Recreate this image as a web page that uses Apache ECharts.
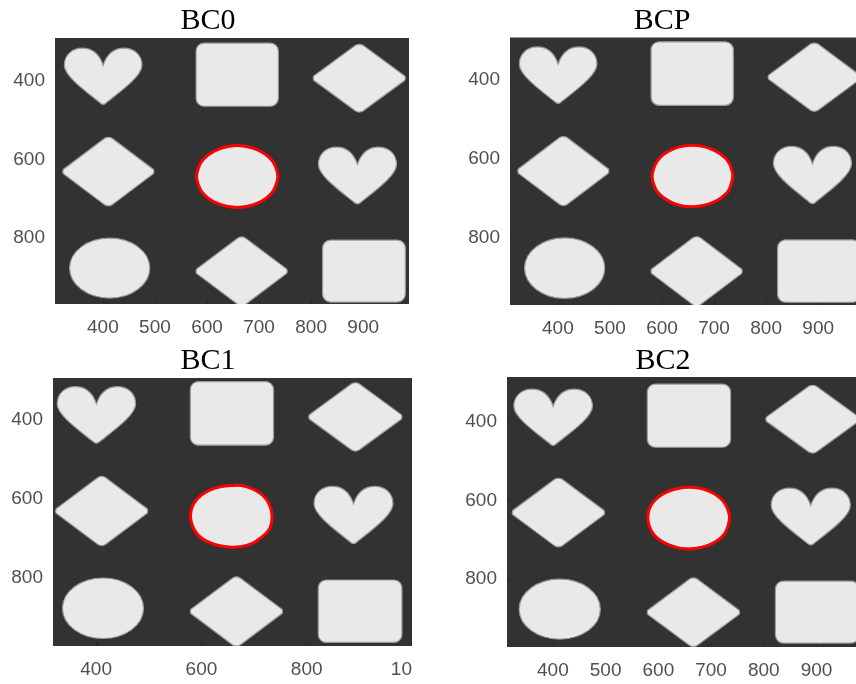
<!DOCTYPE html>
<html><head><meta charset="utf-8">
<script src="https://cdn.jsdelivr.net/npm/echarts@6/dist/echarts.min.js"></script>
<style>
html,body{margin:0;padding:0;background:#ffffff;width:856px;height:684px;overflow:hidden;}
.pn{position:absolute;overflow:hidden;}
</style></head><body>
<div id="p0" class="pn" style="left:0;top:0;width:418px;height:340px"></div>
<div id="p1" class="pn" style="left:418px;top:0;width:438px;height:340px"></div>
<div id="p2" class="pn" style="left:0;top:340px;width:412px;height:344px"></div>
<div id="p3" class="pn" style="left:418px;top:340px;width:438px;height:344px"></div>
<script>
// ---------- data ----------
const panelTitles = ['BC0', 'BCP', 'BC1', 'BC2'];
const xTicksFine = [400, 500, 600, 700, 800, 900];
const xTicksCoarse = [400, 600, 800, 1000];
const yTicks = [400, 600, 800];

// shape kinds: 0 heart, 1 rounded rectangle, 2 diamond, 3 ellipse
const shapeKind = [0, 1, 2, 2, 3, 0, 3, 2, 1];
const shapeCx   = [400.5, 658, 892.5, 410.5, 658, 889, 413, 666.5, 901.5];
const shapeCy   = [387.5, 383.5, 392.5, 630.5, 643.5, 640.5, 876.5, 884.5, 884];
const shapeW    = [149, 158, 177, 175, 154, 150, 154, 175, 159];
const shapeH    = [143, 161, 173, 175, 155, 145, 153, 175, 158];

// red contours (image pixel coordinates)
const contourBC0X = [736,733,726,713,697,678,658,638,619,603,590,583,580,583,590,603,619,638,658,678,697,713,726,733];
const contourBC0Y = [643,623,604,587,575,567,564,567,575,587,604,623,643,663,682,699,711,719,722,719,711,699,682,663];
const contourBCPX = [736,733,726,713,697,678,658,638,619,603,591,584,581,584,591,604,620,639,659,679,698,714,727,733];
const contourBCPY = [643,623,604,588,576,568,565,568,576,588,605,624,644,664,683,699,711,719,721,718,710,698,682,663];
const contourBC1X = [734,731,724,712,696,677,656,636,617,601,588,581,579,582,589,600,617,637,657,678,698,714,727,733];
const contourBC1Y = [641,621,602,586,574,566,566,569,577,589,606,625,645,665,684,700,711,719,722,720,712,697,681,662];
const contourBC2X = [735,732,725,712,696,677,657,637,618,602,589,582,580,583,590,603,620,639,659,679,698,714,726,732];
const contourBC2Y = [644,624,605,588,576,568,566,569,577,589,606,625,645,665,684,701,713,721,723,720,712,700,684,665];

// ---------- drawing ----------
const HEART = 'M50,30 C45,10 36,0 23,0 C10,0 0,12 0,30 C0,50 30,78 47,97 Q50,100 53,97 C70,78 100,50 100,30 C100,12 90,0 77,0 C64,0 55,10 50,30 Z';
const DIAMOND = 'M1,47 Q0,50 1,53 L46,97 Q50,100 54,97 L99,53 Q100,50 99,47 L54,3 Q50,0 46,3 Z';
const ELLIPSE = 'M0,50 A50,50 0 1,1 100,50 A50,50 0 1,1 0,50 Z';

const shapeData = shapeKind.map((k, i) => [k, shapeCx[i], shapeCy[i], shapeW[i], shapeH[i]]);

function renderShape(params, api) {
  const k = api.value(0), cx = api.value(1), cy = api.value(2), w = api.value(3), h = api.value(4);
  const a = api.coord([cx - w / 2, cy - h / 2]);
  const b = api.coord([cx + w / 2, cy + h / 2]);
  const x = Math.min(a[0], b[0]), y = Math.min(a[1], b[1]);
  const W = Math.abs(b[0] - a[0]), H = Math.abs(b[1] - a[1]);
  const style = { fill: '#e9e9e9', stroke: '#9a9a9a', lineWidth: 1.2 };
  if (k === 1) return { type: 'rect', shape: { x: x, y: y, width: W, height: H, r: 8 }, style: style };
  const pd = k === 0 ? HEART : (k === 2 ? DIAMOND : ELLIPSE);
  return { type: 'path', shape: { pathData: pd, x: x, y: y, width: W, height: H, layout: 'cover' }, style: style };
}

function makeContourRenderer(xs, ys) {
  return function (params, api) {
    if (params.dataIndex !== 0) return null;
    const pts = xs.map((v, i) => api.coord([v, ys[i]]));
    return { type: 'polygon', shape: { points: pts, smooth: 0.35 },
             style: { fill: null, stroke: '#ff0000', lineWidth: 3 } };
  };
}

const panels = [
  { id: 'p0', title: panelTitles[0], xt: xTicksFine,   cx: contourBC0X, cy: contourBC0Y,
    grid: { left: 55, top: 38, width: 354, height: 266 }, xr: [308, 988], yr: [290, 968], tx: 208, ty: 21 },
  { id: 'p1', title: panelTitles[1], xt: xTicksFine,   cx: contourBCPX, cy: contourBCPY,
    grid: { left: 92, top: 37.5, width: 354, height: 267.5 }, xr: [308, 988], yr: [292, 970], tx: 244, ty: 21 },
  { id: 'p2', title: panelTitles[2], xt: xTicksCoarse, cx: contourBC1X, cy: contourBC1Y,
    grid: { left: 53, top: 38, width: 360, height: 268 }, xr: [318, 1002], yr: [294, 972], tx: 208, ty: 21 },
  { id: 'p3', title: panelTitles[3], xt: xTicksFine,   cx: contourBC2X, cy: contourBC2Y,
    grid: { left: 89, top: 37, width: 357, height: 270 }, xr: [313, 990], yr: [285, 973], tx: 245, ty: 21 }
];

const labelStyle = { color: '#505050', fontFamily: 'Liberation Sans, Arial, sans-serif', fontSize: 19,
                     formatter: v => String(v) };

panels.forEach(p => {
  const chart = echarts.init(document.getElementById(p.id), null, { renderer: 'canvas' });
  chart.setOption({
    animation: false,
    backgroundColor: '#ffffff',
    graphic: [{
      type: 'text', x: p.tx, y: p.ty, z: 10,
      style: { text: p.title, font: '30px "Liberation Serif", "Times New Roman", serif', fill: '#000000',
               textAlign: 'center', textVerticalAlign: 'middle' }
    }],
    grid: Object.assign({ show: true, backgroundColor: '#323232', borderWidth: 0,
                          containLabel: false, outerBoundsMode: 'none' }, p.grid),
    xAxis: {
      type: 'value', min: p.xr[0], max: p.xr[1], position: 'bottom',
      axisLine: { show: false }, splitLine: { show: false },
      axisTick: { show: true, inside: true, length: 4, customValues: p.xt, lineStyle: { color: '#262626' } },
      axisLabel: Object.assign({ customValues: p.xt, margin: 14, hideOverlap: false }, labelStyle)
    },
    yAxis: {
      type: 'value', inverse: true, min: p.yr[0], max: p.yr[1],
      axisLine: { show: false }, splitLine: { show: false },
      axisTick: { show: true, inside: true, length: 4, customValues: yTicks, lineStyle: { color: '#262626' } },
      axisLabel: Object.assign({ customValues: yTicks, margin: 10 }, labelStyle)
    },
    series: [
      { type: 'custom', clip: true, renderItem: renderShape, data: shapeData, encode: { x: 1, y: 2 }, z: 2, silent: true },
      { type: 'custom', clip: true, renderItem: makeContourRenderer(p.cx, p.cy), z: 3, silent: true,
        data: p.cx.map((v, i) => [v, p.cy[i]]), encode: { x: 0, y: 1 } }
    ]
  });
});
</script>
</body></html>
